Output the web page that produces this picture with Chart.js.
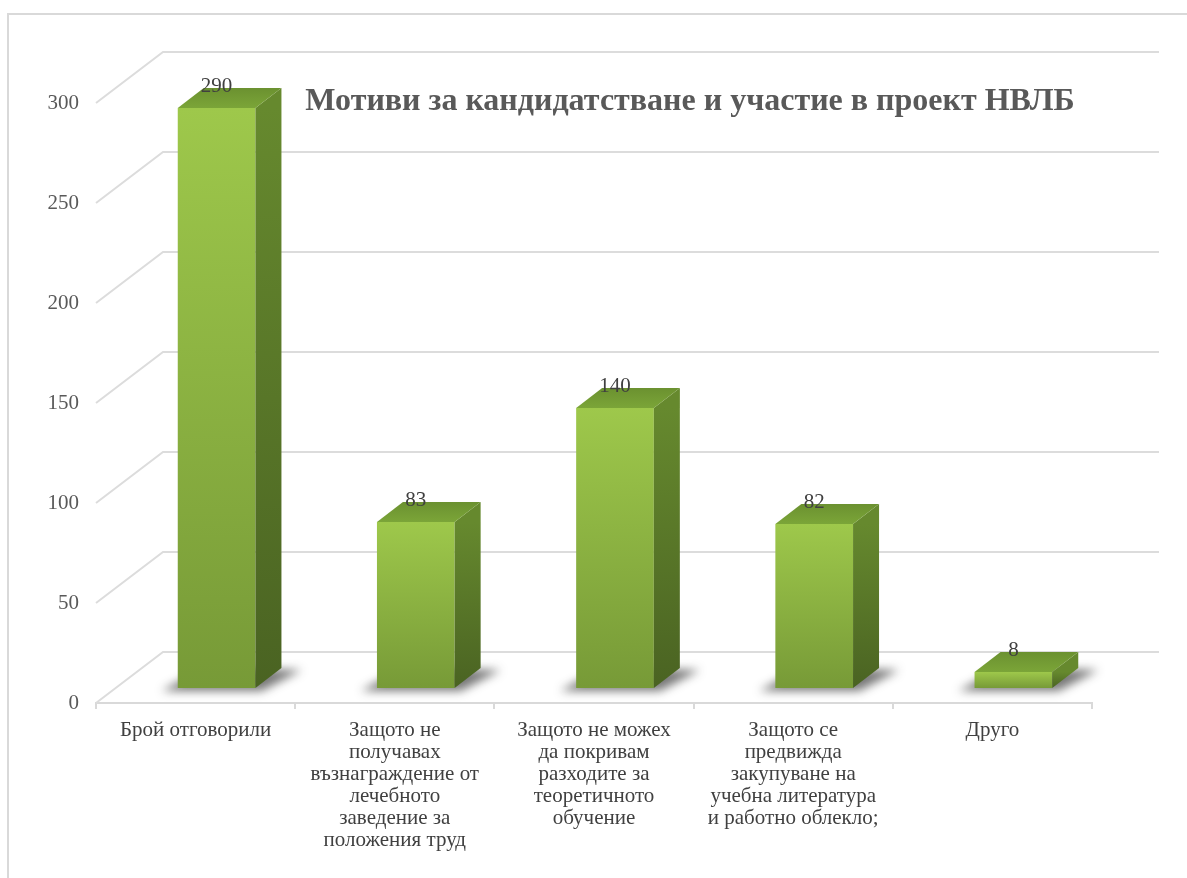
<!DOCTYPE html>
<html>
<head>
<meta charset="utf-8">
<script src="https://cdn.jsdelivr.net/npm/chart.js@4/dist/chart.umd.min.js"></script>
<style>
  html, body { margin:0; padding:0; background:#fff; }
  #wrap { width:1187px; height:878px; }
</style>
</head>
<body>
<div id="wrap"><canvas id="c"></canvas></div>
<script>
const categories = [
  ["Брой отговорили"],
  ["Защото не", "получавах", "възнаграждение от", "лечебното", "заведение за", "положения труд"],
  ["Защото не можех", "да покривам", "разходите за", "теоретичното", "обучение"],
  ["Защото се", "предвижда", "закупуване на", "учебна литература", "и работно облекло;"],
  ["Друго"]
];
const values = [290, 83, 140, 82, 8];
const yTicks = [0, 50, 100, 150, 200, 250, 300];
const chartTitle = "Мотиви за кандидатстване и участие в проект НВЛБ";

// 3d look: back wall offset, bar offset inside the floor, bar depth
const WALL = { dx: 67, dy: -51 };
const SHIFT = { dx: 21, dy: -15 };
const BAR_D = { dx: 26, dy: -20 };
const SERIF = "'Liberation Serif', 'Times New Roman', serif";

function poly(ctx, pts){
  ctx.beginPath();
  ctx.moveTo(pts[0][0], pts[0][1]);
  for(let i = 1; i < pts.length; i++) ctx.lineTo(pts[i][0], pts[i][1]);
  ctx.closePath();
}

const fake3d = {
  id: "fake3d",
  beforeDraw(chart){
    const ctx = chart.ctx;
    ctx.save();
    ctx.strokeStyle = "#d9d9d9";
    ctx.lineWidth = 2;
    ctx.beginPath();
    ctx.moveTo(8, 878); ctx.lineTo(8, 14); ctx.lineTo(1187, 14);
    ctx.stroke();
    ctx.restore();
  },
  beforeDatasetsDraw(chart){
    const {ctx, chartArea, scales} = chart;
    ctx.save();
    ctx.strokeStyle = "#dcdcdc";
    ctx.lineWidth = 2;
    for(const t of yTicks){
      const py = scales.y.getPixelForValue(t);
      ctx.beginPath();
      ctx.moveTo(chartArea.left, py);
      ctx.lineTo(chartArea.left + WALL.dx, py + WALL.dy);
      ctx.lineTo(chartArea.right + WALL.dx, py + WALL.dy);
      ctx.stroke();
    }
    ctx.restore();

    // shadows on the floor
    const bars = chart.getDatasetMeta(0).data;
    ctx.save();
    ctx.translate(SHIFT.dx, SHIFT.dy);
    ctx.filter = "blur(5px)";
    ctx.fillStyle = "rgba(30,30,30,0.6)";
    for(const b of bars){
      const l = b.x - b.width / 2, r = b.x + b.width / 2, base = b.base;
      poly(ctx, [[l - 16, base + 3], [r + 6, base + 3], [r + BAR_D.dx + 20, base + BAR_D.dy + 2], [l + BAR_D.dx, base + BAR_D.dy]]);
      ctx.fill();
    }
    ctx.restore();

    ctx.save();
    ctx.translate(SHIFT.dx, SHIFT.dy);
  },
  afterDatasetsDraw(chart){
    const {ctx} = chart;
    const bars = chart.getDatasetMeta(0).data;
    for(const b of bars){
      const l = b.x - b.width / 2, r = b.x + b.width / 2, top = b.y, base = b.base;
      // side
      const gs = ctx.createLinearGradient(0, top, 0, base);
      gs.addColorStop(0, "#66892e");
      gs.addColorStop(1, "#4a6322");
      ctx.fillStyle = gs;
      poly(ctx, [[r, top], [r + BAR_D.dx, top + BAR_D.dy], [r + BAR_D.dx, base + BAR_D.dy], [r, base]]);
      ctx.fill();
      // top
      const gt = ctx.createLinearGradient(0, top, 0, top + BAR_D.dy);
      gt.addColorStop(0, "#7ba538");
      gt.addColorStop(1, "#6b9130");
      ctx.fillStyle = gt;
      poly(ctx, [[l, top], [r, top], [r + BAR_D.dx, top + BAR_D.dy], [l + BAR_D.dx, top + BAR_D.dy]]);
      ctx.fill();
    }
    ctx.restore();

    // value labels
    ctx.save();
    ctx.font = "21px " + SERIF;
    ctx.fillStyle = "#404040";
    ctx.textAlign = "center";
    ctx.textBaseline = "middle";
    bars.forEach((b, i) => {
      ctx.fillText(String(values[i]), b.x + SHIFT.dx, b.y + SHIFT.dy - 22);
    });
    ctx.restore();

    // title sits inside the plot
    ctx.save();
    ctx.font = "bold 32px " + SERIF;
    ctx.fillStyle = "#595959";
    ctx.textAlign = "center";
    ctx.textBaseline = "middle";
    ctx.fillText(chartTitle, 690, 102);
    ctx.restore();
  }
};

new Chart(document.getElementById("c"), {
  type: "bar",
  data: {
    labels: categories,
    datasets: [{
      data: values,
      clip: false,
      borderWidth: 0,
      categoryPercentage: 1,
      barPercentage: 0.39,
      backgroundColor: (c) => {
        const chart = c.chart;
        const {ctx, chartArea, scales} = chart;
        if(!chartArea || c.type !== "data" || !c.parsed) return "#8ab43f";
        const top = scales.y.getPixelForValue(c.parsed.y);
        const bot = scales.y.getPixelForValue(0);
        const g = ctx.createLinearGradient(0, top, 0, bot);
        g.addColorStop(0, "#9ec84b");
        g.addColorStop(1, "#779a37");
        return g;
      }
    }]
  },
  options: {
    responsive: true,
    maintainAspectRatio: false,
    animation: false,
    layout: { padding: { top: 103, right: 95, left: 0, bottom: 0 } },
    plugins: {
      legend: { display: false },
      title: { display: false },
      tooltip: { enabled: false }
    },
    scales: {
      x: {
        offset: true,
        afterFit: (s) => { s.height = 175; },
        grid: { display: true, drawOnChartArea: false, drawTicks: true, tickLength: 6, offset: true, color: "#d9d9d9", lineWidth: 2 },
        border: { display: true, color: "#d9d9d9", width: 2 },
        ticks: { color: "#404040", font: { family: SERIF, size: 21, lineHeight: 1.04 }, padding: 11, maxRotation: 0, autoSkip: false }
      },
      y: {
        min: 0,
        max: 300,
        afterFit: (s) => { s.width = 96; },
        grid: { display: false },
        border: { display: false },
        ticks: { stepSize: 50, color: "#595959", font: { family: SERIF, size: 21 }, padding: 9 }
      }
    }
  },
  plugins: [fake3d]
});
</script>
</body>
</html>
